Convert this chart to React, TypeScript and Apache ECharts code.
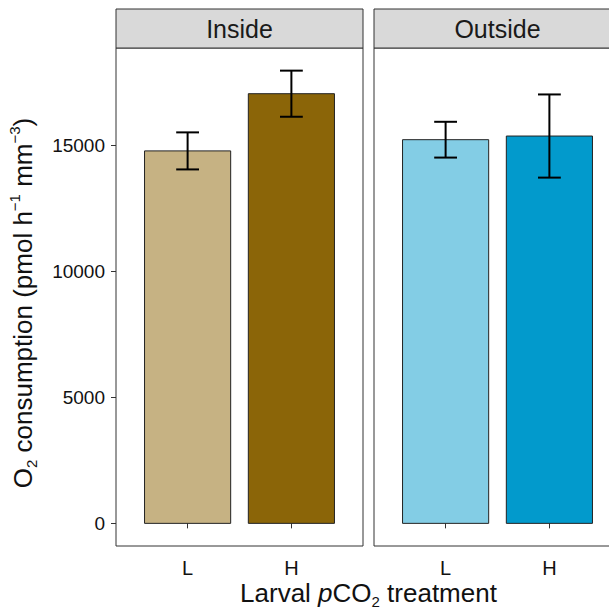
import React, { useEffect, useRef } from "react";
import * as echarts from "echarts";

const panels = ["Inside", "Outside"];
const categories = ["L", "H"];
const insideMeans = [14780, 17050];
const insideSE = [735, 915];
const outsideMeans = [15225, 15370];
const outsideSE = [710, 1650];
const insideColors = ["#C6B283", "#8B6508"];
const outsideColors = ["#83CDE5", "#029ACC"];
const yTicks = [0, 5000, 10000, 15000];

const FONT = "'Liberation Sans', Arial, Helvetica, sans-serif";

export default function App() {
  const ref = useRef<HTMLDivElement>(null);
  useEffect(() => {
    if (!ref.current) return;
    const chart = echarts.init(ref.current, null, { renderer: "svg" });

    const allTops = [
      ...insideMeans.map((m, i) => m + insideSE[i]),
      ...outsideMeans.map((m, i) => m + outsideSE[i]),
    ];
    const dataMax = Math.max(...allTops);
    const pad = dataMax * 0.05;
    const yMin = -pad;
    const yMax = dataMax + pad;
    const xMin = 0.31;
    const xMax = 2.69;
    const barHalf = 0.415;
    const capHalf = 0.11;

    const gridTop = 48;
    const gridH = 498;
    const gridW = 247;
    const lefts = [116, 374];

    const mkData = (means: number[], se: number[]) =>
      means.map((m, i) => [i + 1, m, m - se[i], m + se[i]]);

    const barSeries = (gi: number, colors: string[], means: number[], se: number[]) => ({
      type: "custom",
      xAxisIndex: gi,
      yAxisIndex: gi,
      data: mkData(means, se),
      renderItem: (params: any, api: any) => {
        const x = api.value(0);
        const v = api.value(1);
        const p0 = api.coord([x - barHalf, v]);
        const p1 = api.coord([x + barHalf, 0]);
        return {
          type: "rect",
          shape: { x: p0[0], y: p0[1], width: p1[0] - p0[0], height: p1[1] - p0[1] },
          style: { fill: colors[params.dataIndex], stroke: "#222", lineWidth: 1 },
        };
      },
    });

    const errSeries = (gi: number, means: number[], se: number[]) => ({
      type: "custom",
      xAxisIndex: gi,
      yAxisIndex: gi,
      data: mkData(means, se),
      z: 5,
      renderItem: (params: any, api: any) => {
        const x = api.value(0);
        const lo = api.value(2);
        const hi = api.value(3);
        const a = api.coord([x, lo]);
        const b = api.coord([x, hi]);
        const l = api.coord([x - capHalf, lo]);
        const r = api.coord([x + capHalf, lo]);
        const lt = api.coord([x - capHalf, hi]);
        const rt = api.coord([x + capHalf, hi]);
        const st = { stroke: "#000", lineWidth: 2 };
        return {
          type: "group",
          children: [
            { type: "line", shape: { x1: a[0], y1: a[1], x2: b[0], y2: b[1] }, style: st },
            { type: "line", shape: { x1: l[0], y1: l[1], x2: r[0], y2: r[1] }, style: st },
            { type: "line", shape: { x1: lt[0], y1: lt[1], x2: rt[0], y2: rt[1] }, style: st },
          ],
        };
      },
    });

    const xAxis = (gi: number) => ({
      type: "value",
      gridIndex: gi,
      min: xMin,
      max: xMax,
      splitLine: { show: false },
      axisLine: { show: false },
      axisTick: {
        show: true,
        length: 5,
        lineStyle: { color: "#333", width: 1 },
        customValues: [1, 2],
      },
      axisLabel: {
        show: true,
        customValues: [1, 2],
        formatter: (v: number) => categories[Math.round(v) - 1] ?? "",
        color: "#111",
        fontSize: 20,
        fontFamily: FONT,
        margin: 12,
      },
    });

    const yAxis = (gi: number) => ({
      type: "value",
      gridIndex: gi,
      min: yMin,
      max: yMax,
      splitLine: { show: false },
      axisLine: { show: false },
      axisTick: {
        show: gi === 0,
        length: 5,
        lineStyle: { color: "#333", width: 1 },
        customValues: yTicks,
      },
      axisLabel: {
        show: gi === 0,
        customValues: yTicks,
        formatter: (v: number) => String(Math.round(v)),
        color: "#111",
        fontSize: 19,
        fontFamily: FONT,
        margin: 11,
      },
    });

    const strips = panels.map((p, i) => ({
      type: "group",
      children: [
        {
          type: "rect",
          shape: { x: lefts[i], y: 9, width: gridW, height: gridTop - 9 },
          style: { fill: "#D9D9D9", stroke: "#333", lineWidth: 1 },
        },
        {
          type: "text",
          x: lefts[i] + gridW / 2,
          y: 29,
          style: {
            text: p,
            fontSize: 25,
            fontFamily: FONT,
            fill: "#1a1a1a",
            align: "center",
            verticalAlign: "middle",
          },
        },
      ],
    }));

    const option: any = {
      animation: false,
      backgroundColor: "#fff",
      grid: lefts.map((l) => ({
        left: l,
        top: gridTop,
        width: gridW,
        height: gridH,
        show: true,
        borderColor: "#333",
        borderWidth: 1,
        backgroundColor: "transparent",
        containLabel: false,
      })),
      xAxis: [xAxis(0), xAxis(1)],
      yAxis: [yAxis(0), yAxis(1)],
      series: [
        barSeries(0, insideColors, insideMeans, insideSE),
        errSeries(0, insideMeans, insideSE),
        barSeries(1, outsideColors, outsideMeans, outsideSE),
        errSeries(1, outsideMeans, outsideSE),
      ],
      graphic: [
        ...strips,
        {
          type: "text",
          x: 23,
          y: 303,
          rotation: Math.PI / 2,
          style: {
            text: "{t|O}{sub|2}{t| consumption (pmol h}{sup|−1}{t| mm}{sup|−3}{t|)}",
            align: "center",
            verticalAlign: "middle",
            fontFamily: FONT,
            fill: "#111",
            rich: {
              t: { fontSize: 26, lineHeight: 32, fontFamily: FONT, fill: "#111" },
              sub: { fontSize: 15, lineHeight: 15, verticalAlign: "bottom", fontFamily: FONT, fill: "#111" },
              sup: { fontSize: 15, lineHeight: 15, verticalAlign: "top", fontFamily: FONT, fill: "#111" },
            },
          },
        },
        {
          type: "text",
          x: (lefts[0] + lefts[1] + gridW) / 2,
          y: 593,
          style: {
            text: "{t|Larval }{i|p}{t|CO}{sub|2}{t| treatment}",
            align: "center",
            verticalAlign: "middle",
            fontFamily: FONT,
            fill: "#111",
            rich: {
              t: { fontSize: 26, lineHeight: 32, fontFamily: FONT, fill: "#111" },
              i: { fontSize: 26, lineHeight: 32, fontStyle: "italic", fontFamily: FONT, fill: "#111" },
              sub: { fontSize: 15, lineHeight: 15, verticalAlign: "bottom", fontFamily: FONT, fill: "#111" },
            },
          },
        },
      ],
    };

    chart.setOption(option);
    return () => chart.dispose();
  }, []);

  return (
    <div
      style={{
        position: "fixed",
        left: 0,
        top: 0,
        width: 609,
        height: 610,
        overflow: "hidden",
        background: "#fff",
      }}
    >
      <div ref={ref} style={{ width: 630, height: 610 }} />
    </div>
  );
}
